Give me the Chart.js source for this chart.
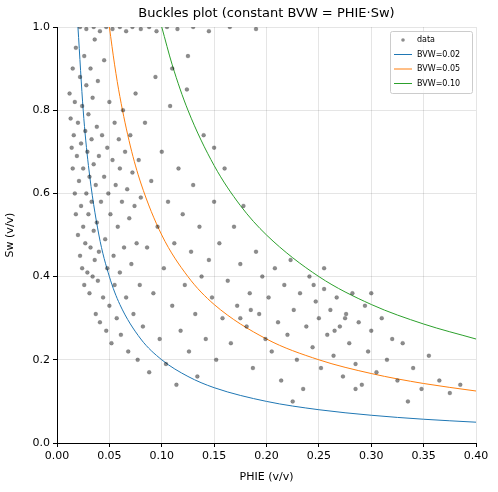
<!DOCTYPE html>
<html>
<head>
<meta charset="utf-8">
<script src="https://cdn.jsdelivr.net/npm/chart.js@4"></script>
<style>
  html, body { margin: 0; padding: 0; background: #fff; }
  #wrap { width: 498px; height: 492px; }
</style>
</head>
<body>
<div id="wrap"><canvas id="c" width="498" height="492"></canvas></div>
<script>
// ─── DATOS ───────────────────────────────────────────────────────────────────
const phie = [
  .012,.013,.014,.015,.015,.016,.017,.017,.018,.018,.019,.020,.020,.021,.022,.022,.023,.023,.024,.024,
  .025,.025,.026,.026,.027,.027,.028,.028,.029,.029,.030,.030,.031,.031,.032,.032,.033,.033,.034,.034,
  .035,.035,.036,.036,.037,.037,.038,.038,.039,.039,.040,.040,
  .041,.042,.043,.044,.045,.045,.046,.047,.048,.048,.049,.050,.050,.051,.052,.053,.054,.055,.055,.056,
  .057,.058,.059,.060,.060,.061,.062,.063,.064,.065,.066,.067,.068,.069,.070,.071,.072,.073,.074,.075,
  .076,.077,.078,.079,.080,
  .022,.028,.035,.041,.047,.053,.060,.066,.072,.080,.088,.095,.105,.115,.130,.145,.165,.190,
  .082,.084,.086,.088,.090,.092,.094,.096,.098,.100,.102,.104,.106,.108,.110,.112,.114,.116,.118,.120,
  .122,.124,.126,.128,.130,.132,.134,.136,.138,.140,.142,.145,.148,.150,.152,.155,.158,.160,.163,.166,
  .169,.172,.175,.178,.181,.184,.187,.190,.193,.196,.199,.150,.125,.110,.175,.185,
  .202,.205,.208,.211,.214,.217,.220,.223,.226,.229,.232,.235,.238,.241,.244,.247,.250,.252,.255,.258,
  .261,.264,.267,.270,.273,.276,.279,.282,.285,.288,.291,.294,.297,.300,.305,.310,.315,.320,.325,.330,
  .335,.340,.348,.355,.365,.375,.385,.255,.265,.275,.285,.225,.300,.245
];
const sw = [
  .84,.78,.71,.90,.66,.74,.60,.82,.55,.95,.69,.50,.77,.63,.45,.88,.57,.72,.42,.81,
  .52,.66,.38,.93,.48,.75,.60,.86,.41,.70,.55,.79,.36,.64,.47,.90,.73,.58,.40,.83,
  .51,.67,.44,.97,.62,.31,.76,.53,.39,.87,.69,.46,
  .29,.58,.74,.35,.64,.92,.49,.27,.71,.42,.60,.82,.33,.55,.24,.68,.45,.77,.38,.62,
  .30,.52,.73,.41,.66,.26,.58,.80,.47,.70,.35,.61,.22,.54,.74,.43,.65,.31,.57,.84,
  .48,.20,.68,.38,.59,
  1,.995,1,.99,1,.995,1,.99,1,.995,1,.99,1,.995,1,.99,1,.995,
  .28,.77,.47,.17,.63,.36,.88,.52,.25,.70,.42,.19,.58,.81,.33,.48,.14,.66,.27,.55,
  .38,.85,.22,.46,.62,.31,.16,.52,.40,.74,.25,.44,.35,.58,.20,.48,.30,.66,.39,.24,
  .52,.33,.43,.57,.28,.36,.18,.46,.31,.40,.25,.71,.93,.90,.30,.32,
  .35,.22,.42,.29,.15,.38,.26,.44,.32,.20,.36,.13,.28,.40,.23,.34,.30,.18,.37,.26,
  .32,.21,.35,.28,.16,.31,.24,.36,.19,.29,.14,.33,.22,.27,.17,.30,.20,.25,.15,.24,
  .10,.18,.13,.21,.15,.12,.14,.42,.27,.30,.13,.10,.36,.38
];

// Curvas BVW constante
const bvw02X = [.02,.025,.03,.04,.05,.06,.08,.1,.125,.15,.2,.25,.3,.35,.4];
const bvw02Y = [1,.8,.667,.5,.4,.333,.25,.2,.16,.133,.1,.08,.0667,.0571,.05];
const bvw05X = [.05,.055,.06,.07,.08,.1,.125,.15,.2,.25,.3,.35,.4];
const bvw05Y = [1,.909,.833,.714,.625,.5,.4,.333,.25,.2,.167,.143,.125];
const bvw10X = [.1,.11,.125,.15,.175,.2,.25,.3,.35,.4];
const bvw10Y = [1,.909,.8,.667,.571,.5,.4,.333,.286,.25];

const titleText = 'Buckles plot (constant BVW = PHIE·Sw)';

const toXY = (xs, ys) => xs.map((x, i) => ({ x, y: ys[i] }));

// ─── TÍTULO CENTRADO SOBRE EL ÁREA + LEYENDA INTERIOR ────────────────────────
const overlayPlugin = {
  id: 'overlay',
  afterDraw(chart) {
    const { ctx, chartArea } = chart;
    ctx.save();
    ctx.fillStyle = '#000';
    ctx.font = '13px "DejaVu Sans"';
    ctx.textAlign = 'center';
    ctx.textBaseline = 'middle';
    ctx.fillText(titleText, (chartArea.left + chartArea.right) / 2, 14);

    const w = 82, h = 62;
    const x0 = chartArea.right - w - 4, y0 = chartArea.top + 4;
    ctx.fillStyle = 'rgba(255,255,255,0.8)';
    ctx.strokeStyle = '#ccc';
    ctx.lineWidth = 1;
    ctx.beginPath();
    ctx.roundRect(x0 + 0.5, y0 + 0.5, w, h, 2);
    ctx.fill(); ctx.stroke();
    ctx.font = '8px "DejaVu Sans"';
    ctx.textAlign = 'left';
    chart.data.datasets.forEach((ds, i) => {
      const yy = y0 + 9 + i * 14.5;
      if (i === 0) {
        ctx.fillStyle = 'rgba(0,0,0,0.45)';
        ctx.beginPath(); ctx.arc(x0 + 13, yy, 1.8, 0, Math.PI * 2); ctx.fill();
      } else {
        ctx.strokeStyle = ds.borderColor;
        ctx.beginPath(); ctx.moveTo(x0 + 4, yy); ctx.lineTo(x0 + 22, yy); ctx.stroke();
      }
      ctx.fillStyle = '#000';
      ctx.fillText(ds.label, x0 + 27, yy);
    });
    ctx.restore();
  }
};

const lineDs = (label, xs, ys, color) => ({
  type: 'line', label, data: toXY(xs, ys),
  borderColor: color, borderWidth: 1, pointRadius: 0,
  cubicInterpolationMode: 'monotone', fill: false
});

new Chart(document.getElementById('c'), {
  type: 'scatter',
  data: {
    datasets: [
      {
        label: 'data', data: toXY(phie, sw),
        backgroundColor: 'rgba(0,0,0,0.45)', borderColor: 'rgba(0,0,0,0.25)',
        pointRadius: 2, borderWidth: 0.5
      },
      lineDs('BVW=0.02', bvw02X, bvw02Y, '#1f77b4'),
      lineDs('BVW=0.05', bvw05X, bvw05Y, '#ff7f0e'),
      lineDs('BVW=0.10', bvw10X, bvw10Y, '#2ca02c')
    ]
  },
  plugins: [overlayPlugin],
  options: {
    responsive: false,
    animation: false,
    layout: { padding: { left: 0, right: 22, top: 27, bottom: 0 } },
    plugins: {
      legend: { display: false },
      tooltip: { enabled: false },
      title: { display: false }
    },
    scales: {
      x: {
        type: 'linear', min: 0, max: 0.4,
        afterFit: s => { s.height = 49; },
        ticks: { stepSize: 0.05, color: '#000', font: { family: 'DejaVu Sans', size: 11 },
                 callback: v => v.toFixed(2) },
        grid: { color: 'rgba(0,0,0,0.1)', tickColor: '#000', tickLength: 4 },
        border: { color: '#000' },
        title: { display: true, text: 'PHIE (v/v)', color: '#000',
                 font: { family: 'DejaVu Sans', size: 11 }, padding: { top: 0, bottom: 8 } }
      },
      y: {
        min: 0, max: 1,
        afterFit: s => { s.width = 57; },
        ticks: { stepSize: 0.2, color: '#000', font: { family: 'DejaVu Sans', size: 11 },
                 callback: v => v.toFixed(1) },
        grid: { color: 'rgba(0,0,0,0.1)', tickColor: '#000', tickLength: 4 },
        border: { color: '#000' },
        title: { display: true, text: 'Sw (v/v)', color: '#000',
                 font: { family: 'DejaVu Sans', size: 11 } }
      }
    }
  }
});
</script>
</body>
</html>
